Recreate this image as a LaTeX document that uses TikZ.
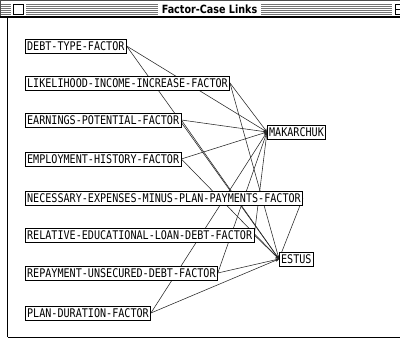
\documentclass[tikz,border=0pt]{standalone}
\usepackage{fontspec}
\newfontfamily\boxfont{DejaVu Sans Mono}
\newfontfamily\titlefont{DejaVu Sans}
\usetikzlibrary{arrows.meta}
\newcommand{\tallt}[1]{\scalebox{1}[1.18]{#1}}
\tikzset{
  factor/.style={draw=black, line width=0.7pt, fill=white, anchor=west,
    font=\boxfont\fontsize{10.1pt}{11pt}\selectfont, inner xsep=1.8pt, inner ysep=0pt,
    minimum height=14pt, text height=8.6pt, text depth=0pt},
  link/.style={draw=black!85, line width=0.55pt, -{Stealth[length=3.5pt,width=3pt]}},
  stripe/.style={draw=black!55, line width=0.8pt},
  frame/.style={draw=black, line width=1.4pt}
}
\begin{document}
\begin{tikzpicture}[x=1pt,y=-1pt]
\useasboundingbox (0,0) rectangle (400,339);
\fill[white] (0,0) rectangle (400,339);
% title bar
\draw[black!70, line width=0.8pt] (0.4,17) -- (0.4,0.4) -- (400,0.4);
\foreach \yy in {4,6,8,10,12,14} {
  \draw[stripe] (1,\yy) -- (11,\yy);
  \draw[stripe] (26,\yy) -- (158,\yy);
  \draw[stripe] (261,\yy) -- (392,\yy);
}
\node[fill=white, draw=black, line width=0.8pt, minimum width=10pt, minimum height=10pt, inner sep=0pt] (closebox) at (18.5,9.3) {};
\node[fill=white, draw=black, line width=0.8pt, minimum width=10pt, minimum height=10pt, inner sep=0pt, anchor=west] (zoombox) at (395,9.3) {};
\draw[black, line width=0.6pt] (395,4.3) rectangle (400,9.3);
\node[font=\titlefont\bfseries\fontsize{9.6pt}{10pt}\selectfont, inner sep=0pt] (title) at (209.5,9.3) {\tallt{Factor-Case Links}};
% window frame
\draw[frame] (0,17) -- (400,17);
\draw[frame] (7.5,17) -- (7.5,337.5);
\draw[frame] (7.5,337.5) -- (400,337.5);
% factor and case nodes
\node[factor] (debt) at (25,46) {\tallt{DEBT-TYPE-FACTOR}};
\node[factor] (like) at (25,83) {\tallt{LIKELIHOOD-INCOME-INCREASE-FACTOR}};
\node[factor] (earn) at (25,120) {\tallt{EARNINGS-POTENTIAL-FACTOR}};
\node[factor] (empl) at (25,159) {\tallt{EMPLOYMENT-HISTORY-FACTOR}};
\node[factor] (nece) at (25,198) {\tallt{NECESSARY-EXPENSES-MINUS-PLAN-PAYMENTS-FACTOR}};
\node[factor] (rela) at (25,235) {\tallt{RELATIVE-EDUCATIONAL-LOAN-DEBT-FACTOR}};
\node[factor] (repa) at (25,273) {\tallt{REPAYMENT-UNSECURED-DEBT-FACTOR}};
\node[factor] (plan) at (25,313) {\tallt{PLAN-DURATION-FACTOR}};
\node[factor] (mak) at (267,132) {\tallt{MAKARCHUK}};
\node[factor] (est) at (279,259) {\tallt{ESTUS}};
% links
\foreach \f in {debt,like,earn,empl,rela,repa,plan} {
  \draw[link] (\f.east) -- (mak.west);
}
\foreach \f in {debt,like,earn,empl,nece,rela,repa,plan} {
  \draw[link] (\f.east) -- (est.west);
}
% redraw boxes on top of links
\node[factor] at (debt.west) {\tallt{DEBT-TYPE-FACTOR}};
\node[factor] at (like.west) {\tallt{LIKELIHOOD-INCOME-INCREASE-FACTOR}};
\node[factor] at (earn.west) {\tallt{EARNINGS-POTENTIAL-FACTOR}};
\node[factor] at (empl.west) {\tallt{EMPLOYMENT-HISTORY-FACTOR}};
\node[factor] at (nece.west) {\tallt{NECESSARY-EXPENSES-MINUS-PLAN-PAYMENTS-FACTOR}};
\node[factor] at (rela.west) {\tallt{RELATIVE-EDUCATIONAL-LOAN-DEBT-FACTOR}};
\node[factor] at (repa.west) {\tallt{REPAYMENT-UNSECURED-DEBT-FACTOR}};
\node[factor] at (plan.west) {\tallt{PLAN-DURATION-FACTOR}};
\node[factor] at (mak.west) {\tallt{MAKARCHUK}};
\node[factor] at (est.west) {\tallt{ESTUS}};
\end{tikzpicture}
\end{document}
